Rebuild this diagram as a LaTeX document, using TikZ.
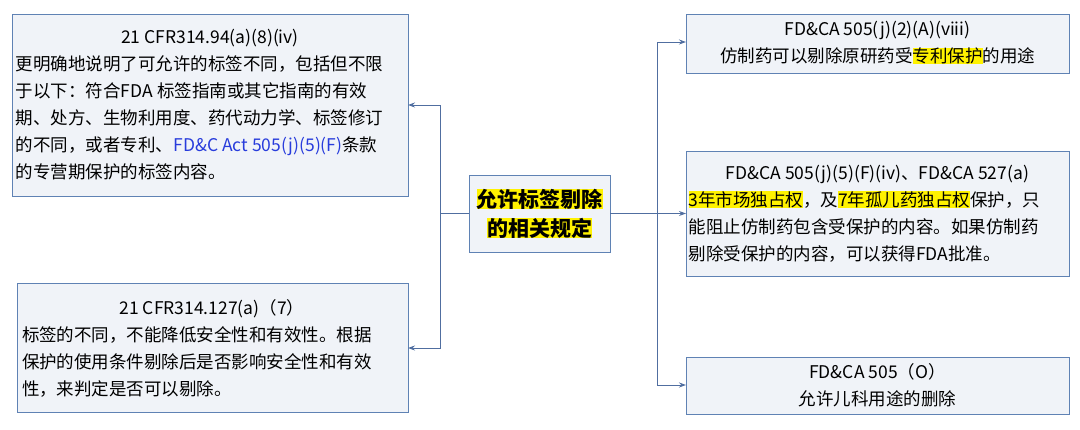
\documentclass[tikz,border=0pt]{standalone}
\usepackage{fontspec}
\setmainfont{Noto Sans CJK SC}
\usetikzlibrary{arrows.meta}
\definecolor{bd}{RGB}{95,130,180}
\definecolor{bx}{RGB}{240,243,248}
\definecolor{ln}{RGB}{80,110,160}
\definecolor{lk}{RGB}{40,60,220}
\newcommand{\hl}[1]{\colorbox{yellow}{#1}}
\setlength{\fboxsep}{0pt}
\tikzset{
 rbox/.style={draw=bd,line width=0.9pt,fill=bx,inner sep=0pt},
 tx/.style={align=center,font=\fontsize{17.5}{27}\selectfont,inner sep=0pt},
 conn/.style={draw=ln,line width=0.9pt,-{Stealth[length=7pt,width=5pt]}},
 plain/.style={draw=ln,line width=0.9pt}
}
\begin{document}
\begin{tikzpicture}[x=1pt,y=-1pt]
\useasboundingbox (0,0) rectangle (1080,430);
% boxes
\draw[rbox] (12,14) rectangle (408,196);
\node[tx] (lt) at (210,105) {21 CFR314.94(a)(8)(iv)\\
\makebox[388pt][l]{更明确地说明了可允许的标签不同，包括但不限}\\
\makebox[388pt][l]{于以下：符合FDA 标签指南或其它指南的有效}\\
\makebox[388pt][l]{期、处方、生物利用度、药代动力学、标签修订}\\
\makebox[388pt][l]{的不同，或者专利、{\color{lk}FD\&C Act 505(j)(5)(F)}条款}\\
\makebox[388pt][l]{的专营期保护的标签内容。}};
\coordinate (ltin) at (408,105);
\draw[rbox] (17,283) rectangle (408,412);
\node[tx] (lb) at (212,348) {21 CFR314.127(a)（7）\\
\makebox[380pt][l]{标签的不同，不能降低安全性和有效性。根据}\\
\makebox[380pt][l]{保护的使用条件剔除后是否影响安全性和有效}\\
\makebox[380pt][l]{性，来判定是否可以剔除。}};
\coordinate (lbin) at (408,348);
\draw[rbox] (469,175) rectangle (610,252);
\node[tx,font=\fontsize{21}{29}\selectfont\bfseries] (c) at (539.5,213.5) {\hl{允许标签剔除}\\\hl{的相关规定}};
\coordinate (cl) at (469,213.5);
\coordinate (cr) at (610,213.5);
\draw[rbox] (686,14) rectangle (1069,73);
\node[tx] (rt) at (877.5,43) {FD\&CA 505(j)(2)(A)(viii)\\仿制药可以剔除原研药受\hl{专利保护}的用途};
\draw[rbox] (686,151) rectangle (1069,276);
\node[tx] (rm) at (877.5,213.5) {FD\&CA 505(j)(5)(F)(iv)、FD\&CA 527(a)\\
\makebox[378pt][l]{\hl{3年市场独占权}，及\hl{7年孤儿药独占权}保护，只}\\
\makebox[378pt][l]{能阻止仿制药包含受保护的内容。如果仿制药}\\
\makebox[378pt][l]{剔除受保护的内容，可以获得FDA批准。}};
\draw[rbox] (686,357) rectangle (1069,414);
\node[tx] (rb) at (877.5,385.5) {FD\&CA 505（O）\\允许儿科用途的删除};
% connectors
\coordinate (lj) at (440,213.5);
\coordinate (rj) at (657,213.5);
\draw[plain] (cl) -- (lj);
\draw[conn] (lj) |- (ltin);
\draw[conn] (lj) |- (lbin);
\draw[plain] (cr) -- (rj);
\draw[conn] (rj) |- (686,42);
\draw[conn] (rj) -- (686,213.5);
\draw[conn] (rj) |- (686,385);
\end{tikzpicture}
\end{document}
